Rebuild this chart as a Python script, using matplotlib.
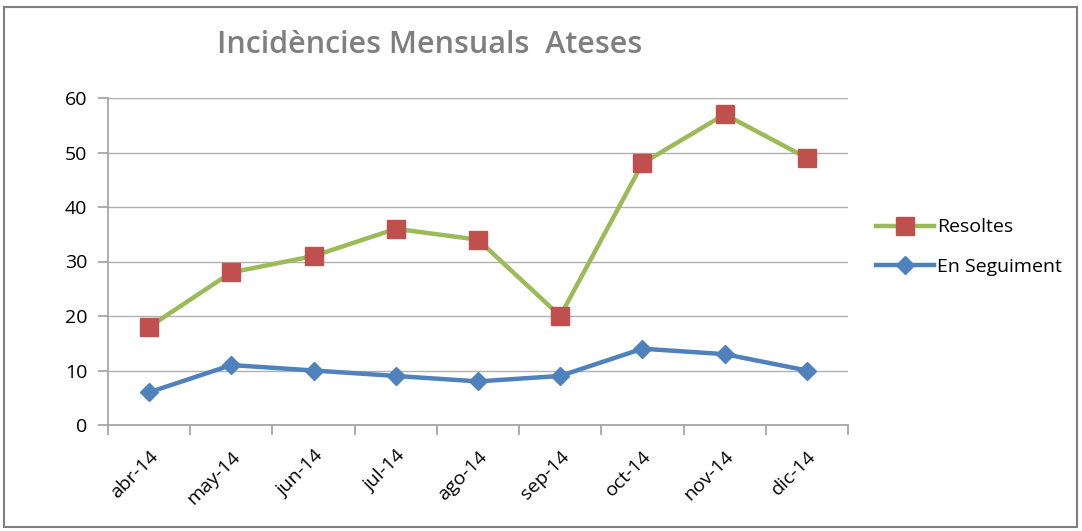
import matplotlib
matplotlib.use("Agg")
import matplotlib.pyplot as plt
from matplotlib.patches import Rectangle
import numpy as np

months = ["abr-14", "may-14", "jun-14", "jul-14", "ago-14", "sep-14", "oct-14", "nov-14", "dic-14"]
resoltes = [18, 28, 31, 36, 34, 20, 48, 57, 49]
seguiment = [6, 11, 10, 9, 8, 9, 14, 13, 10]
yticks = [0, 10, 20, 30, 40, 50, 60]

plt.rcParams['font.family'] = ['Open Sans', 'DejaVu Sans']

fig = plt.figure(figsize=(10.82, 5.31), dpi=100)
ax = fig.add_axes([108/1082, 1-425/531, 740/1082, 327/531])

x = np.arange(len(months))
ax.plot(x, resoltes, color='#9BBB59', lw=3.2, marker='s', markersize=13,
        markerfacecolor='#C0504D', markeredgecolor='#C0504D', label='Resoltes', zorder=3)
ax.plot(x, seguiment, color='#4F81BD', lw=3.2, marker='D', markersize=9,
        markerfacecolor='#4F81BD', markeredgecolor='#4F81BD', label='En Seguiment', zorder=3)

ax.set_xlim(-0.5, len(months)-0.5)
ax.set_ylim(0, 60)
ax.set_yticks(yticks)
ax.set_yticklabels([str(v) for v in yticks], fontsize=14)
ax.set_xticks(x)
ax.set_xticklabels(months, rotation=45, ha='right', rotation_mode='anchor', fontsize=14)
ax.tick_params(axis='x', length=0, pad=16)
ax.set_xticks(np.arange(-0.5, len(months)), minor=True)
ax.tick_params(axis='x', which='minor', length=7, color='#A0A0A0', width=1.2)
ax.tick_params(axis='y', length=7, color='#A0A0A0', width=1.2, pad=8)

ax.grid(axis='y', color='#B0B0B0', lw=1)
ax.set_axisbelow(True)
for s in ['top', 'right']:
    ax.spines[s].set_visible(False)
for s in ['left', 'bottom']:
    ax.spines[s].set_color('#A0A0A0')
    ax.spines[s].set_linewidth(1.2)

fig.text(430/1082, 1-45/531, "Incidències Mensuals  Ateses", ha='center', va='center',
         fontsize=22, color='#7F7F7F', fontweight='semibold', family='Open Sans')

leg = fig.legend(loc='center left', bbox_to_anchor=(858/1082, 1-247/531), frameon=False,
                 fontsize=14, handlelength=3.0, labelspacing=1.1, handletextpad=0.15)

fig.patches.append(Rectangle((4/1082, 4/531), 1073/1082, 520/531, transform=fig.transFigure,
                             fill=False, edgecolor='#7F7F7F', lw=1.5))

fig.savefig("out.png", dpi=100)
